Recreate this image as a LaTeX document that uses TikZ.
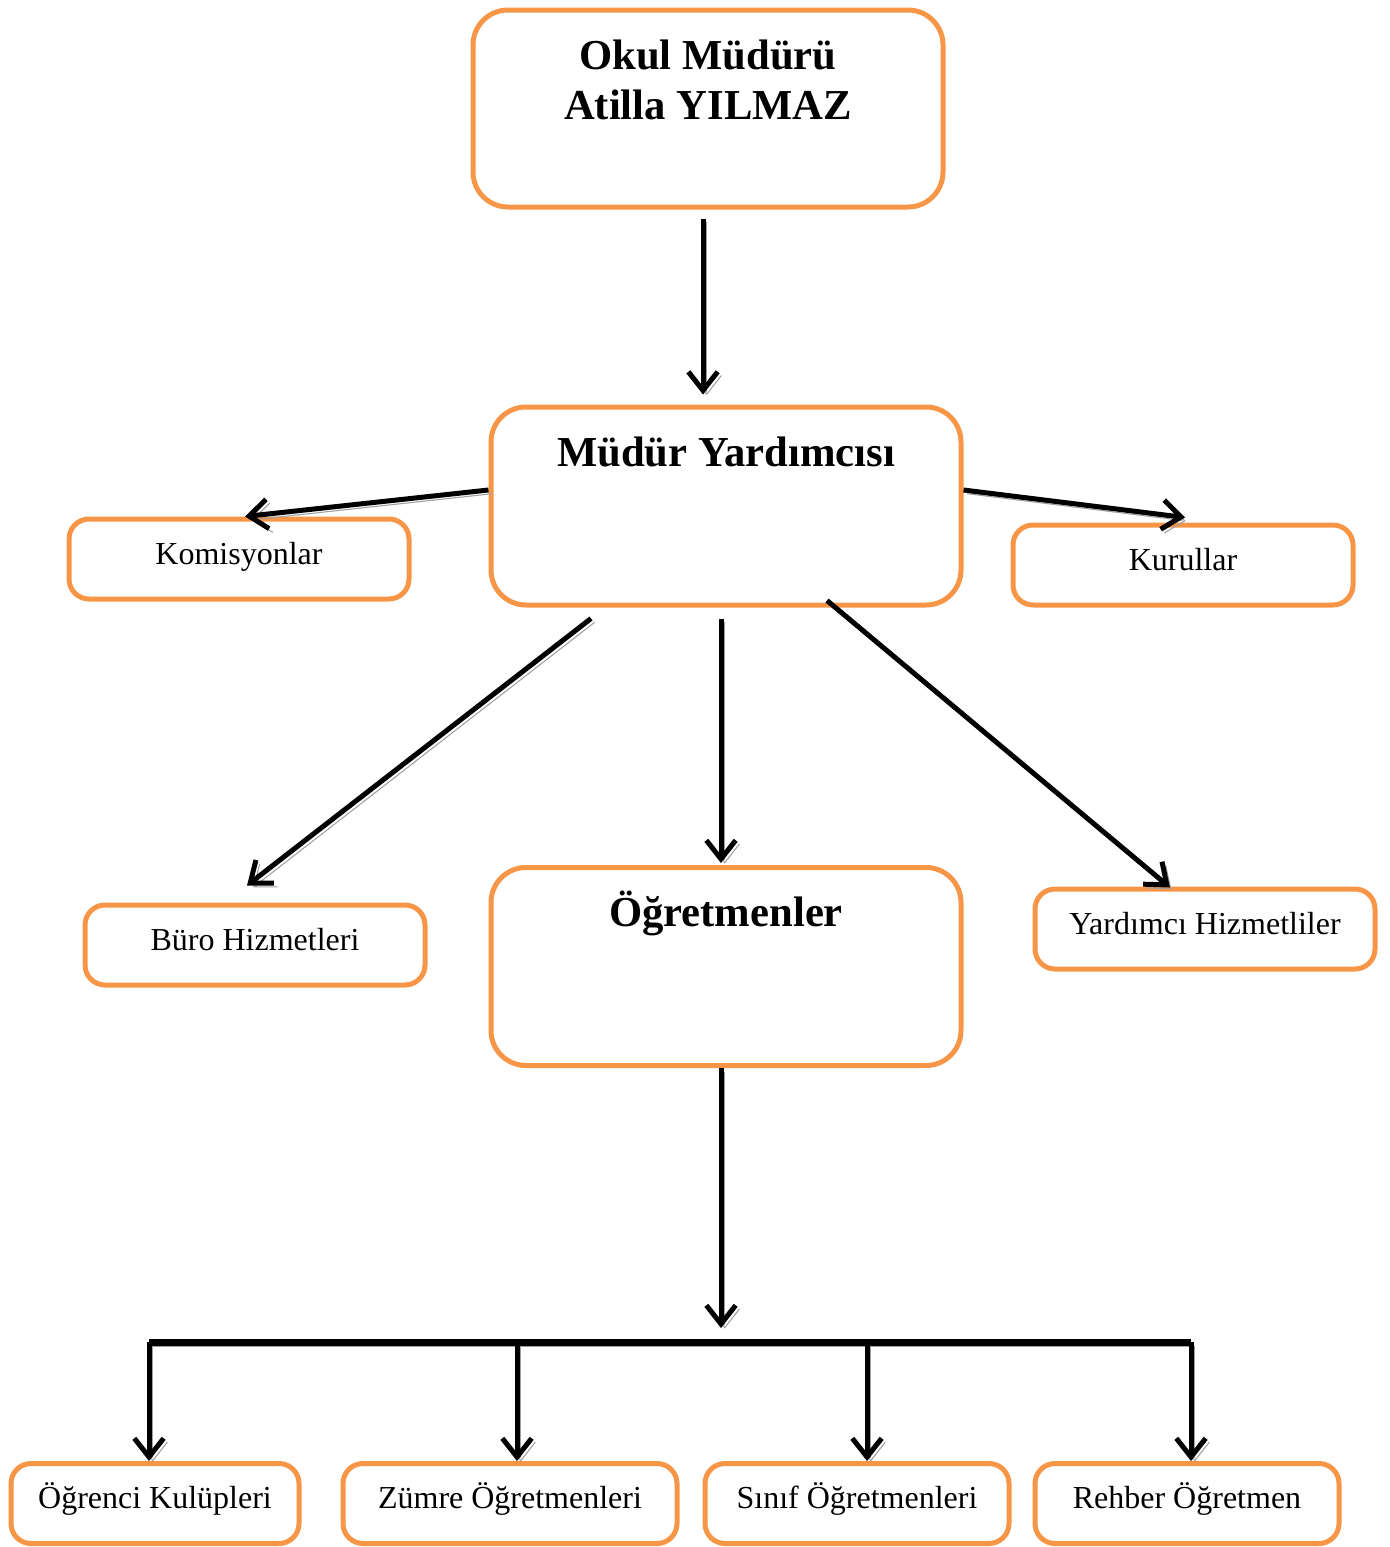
\documentclass[tikz,border=0pt]{standalone}
\usepackage{fontspec}
\setmainfont{Liberation Serif}
\usetikzlibrary{arrows.meta,calc,positioning}
\definecolor{boxorange}{HTML}{F79646}
\definecolor{shadowgray}{HTML}{A0A0A0}
\newcommand{\ux}{0.375pt}
\tikzset{x=\ux, y=-\ux,
box/.style={rectangle, draw=boxorange, line width=5*\ux, rounded corners=20*\ux, inner sep=0pt,
  minimum width=340*\ux, minimum height=80*\ux, text height=9pt, text depth=5pt,
  font=\fontsize{12}{14}\selectfont},
bigbox/.style={box, rounded corners=35*\ux, minimum width=470*\ux, text height=59*\ux, text depth=139*\ux,
  font=\fontsize{16}{18.4}\selectfont\bfseries},
link/.style={-{Straight Barb[length=7pt,width=11pt]}, line width=5*\ux,
  preaction={draw=shadowgray, transform canvas={shift={(1.4pt,-1.4pt)}}}},
bar/.style={line width=7*\ux, preaction={draw=shadowgray, transform canvas={shift={(0.8pt,-1.6pt)}}}}}

\begin{document}
\begin{tikzpicture}
    \useasboundingbox (0,0) rectangle (1390,1547);

    % Nodes
    \node[bigbox, align=center, text height=109*\ux, text depth=88*\ux] (mudur) at (708,108.5) {Okul Müdürü\\Atilla YILMAZ};
    \node[bigbox] (yard) at (726,506) {Müdür Yardımcısı};
    \node[box] (komis) at (239,559) {Komisyonlar};
    \node[box] (kurul) at (1183,565) {Kurullar};
    \node[box] (buro) at (255,945) {Büro Hizmetleri};
    \node[bigbox] (ogret) at (726,966.5) {Öğretmenler};
    \node[box] (yh) at (1205,929) {Yardımcı Hizmetliler};
    \node[box, minimum width=288*\ux] (kulup) at (155,1503.5) {Öğrenci Kulüpleri};
    \node[box, minimum width=334*\ux] (zumre) at (510,1503.5) {Zümre Öğretmenleri};
    \node[box, minimum width=304*\ux] (sinif) at (857,1503.5) {Sınıf Öğretmenleri};
    \node[box, minimum width=304*\ux] (rehber) at (1187,1503.5) {Rehber Öğretmen};

    \coordinate (stem) at (721,1328);
    \coordinate (barL) at (149,1342);
    \coordinate (barR) at (1191,1342);

    % Edges
    \draw[link] ($(mudur.south)+(-5,9)$) -- ($(yard.north)+(-23,-10)$);
    \draw[link] ($(yard.west)+(0,-16)$) -- ($(komis.north)+(6,0)$);
    \draw[link] ($(yard.east)+(0,-16)$) -- ($(kurul.north)+(2,-5)$);
    \draw[link] ($(yard.south)+(-135,11)$) -- ($(buro.north)+(-8,-17)$);
    \draw[link] ($(yard.south)+(-5,11)$) -- ($(ogret.north)+(-5,-2)$);
    \draw[link] ($(yard.south)+(101,-7)$) -- ($(yh.north)+(-35,1)$);
    \draw[link] ($(ogret.south)+(-5,0)$) -- (stem);
    \draw[bar] (barL) -- (barR);
    \foreach \x/\n in {149/kulup,517/zumre,867/sinif,1191/rehber}{
      \coordinate (d\n) at (\x,1342);
      \draw[link] (d\n) -- (d\n |- \n.north);
    }
\end{tikzpicture}
\end{document}
